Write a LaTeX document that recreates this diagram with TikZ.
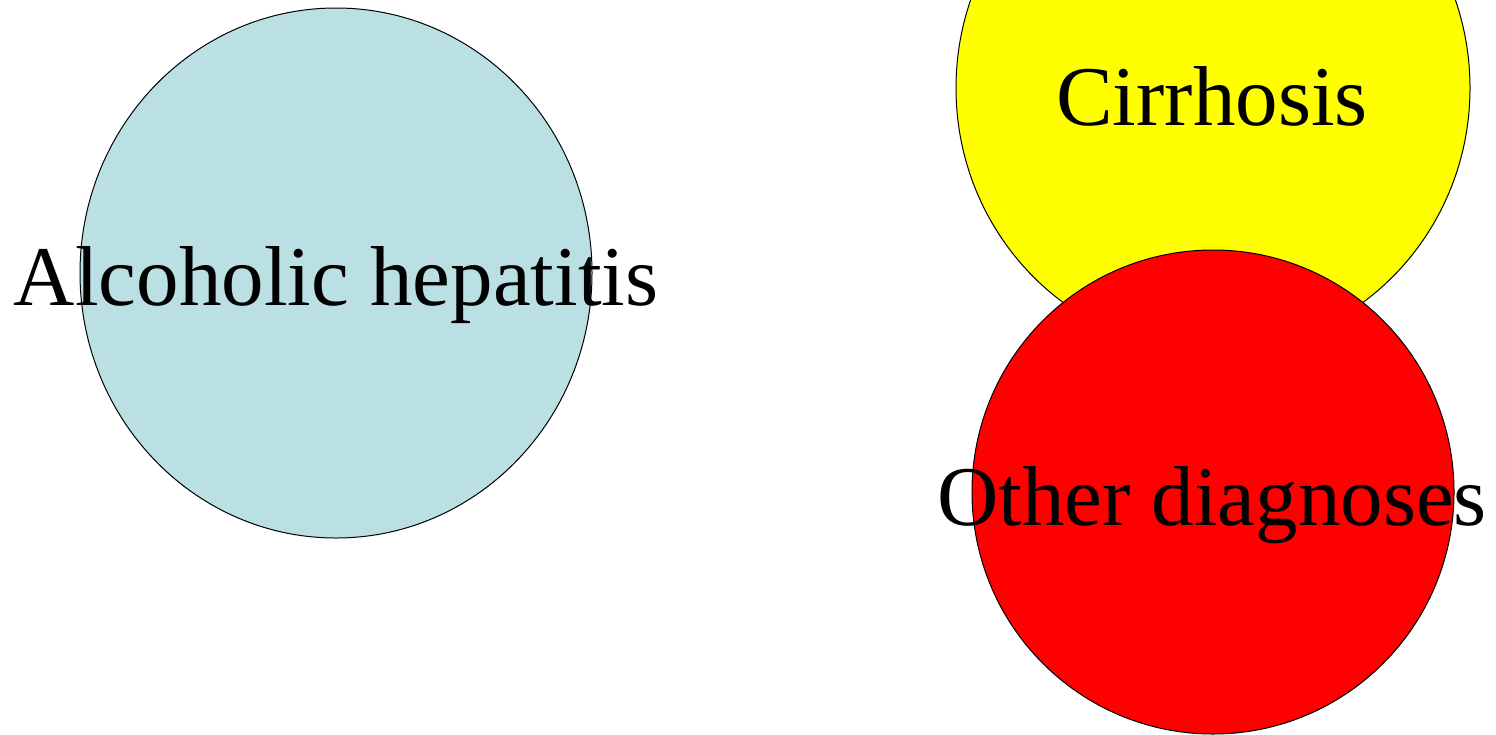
\documentclass[tikz,border=0pt]{standalone}
\usepackage{fontspec}
\setmainfont{Liberation Serif}
\usetikzlibrary{shapes.geometric}
\definecolor{lightblue}{RGB}{187,224,227}
\definecolor{puryellow}{RGB}{255,255,0}
\definecolor{purred}{RGB}{255,0,0}

\begin{document}
\begin{tikzpicture}[x=1pt,y=-1pt,
  c/.style={draw,ellipse,line width=1pt,inner sep=0pt},
  l/.style={anchor=base,inner sep=0pt,font=\fontsize{85}{90}\selectfont}]
  \useasboundingbox (0,0) rectangle (1496,734);
  \node[c,fill=lightblue,minimum width=512pt,minimum height=530pt] (ah) at (336,273) {};
  \node[c,fill=puryellow,minimum width=514pt,minimum height=528pt] (ci) at (1213,88) {};
  \node[c,fill=purred,minimum width=482pt,minimum height=484pt] (od) at (1213,492) {};
  \node[l] (ahl) at (336,305) {Alcoholic hepatitis};
  \node[l] (cil) at (1212,125) {Cirrhosis};
  \node[l] (odl) at (1212,525) {Other diagnoses};
\end{tikzpicture}
\end{document}
